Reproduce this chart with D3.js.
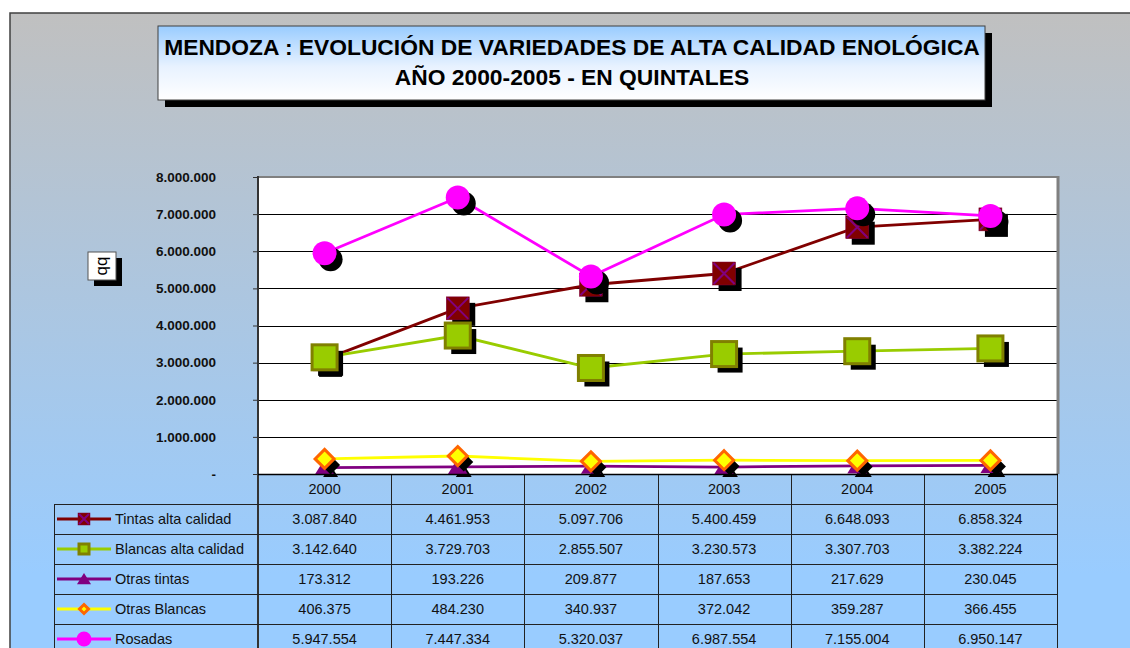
<!DOCTYPE html>
<html><head><meta charset="utf-8">
<script src="https://cdn.jsdelivr.net/npm/d3@7"></script>
<style>html,body{margin:0;padding:0;background:#fff;}svg{display:block;font-family:"Liberation Sans",Arial,sans-serif;}</style>
</head><body>
<script>
const years = ["2000","2001","2002","2003","2004","2005"];
const seriesNames = ["Tintas alta calidad","Blancas alta calidad","Otras tintas","Otras Blancas","Rosadas"];
const tintasAlta = [3087840,4461953,5097706,5400459,6648093,6858324];
const blancasAlta = [3142640,3729703,2855507,3230573,3307703,3382224];
const otrasTintas = [173312,193226,209877,187653,217629,230045];
const otrasBlancas = [406375,484230,340937,372042,359287,366455];
const rosadas = [5947554,7447334,5320037,6987554,7155004,6950147];
const yTicks = [0,1000000,2000000,3000000,4000000,5000000,6000000,7000000,8000000];
const titleLines = ["MENDOZA : EVOLUCIÓN DE VARIEDADES DE ALTA CALIDAD ENOLÓGICA","AÑO 2000-2005 - EN QUINTALES"];
const yTitle = "qq";

const W=1130,H=648;
const svg=d3.select("body").append("svg").attr("width",W).attr("height",H);
const defs=svg.append("defs");
const bg=defs.append("linearGradient").attr("id","bg").attr("x1",0).attr("y1",0).attr("x2",0).attr("y2",1);
bg.append("stop").attr("offset",0).attr("stop-color","#c0c0c0");
bg.append("stop").attr("offset",0.8).attr("stop-color","#99ccff");
bg.append("stop").attr("offset",1).attr("stop-color","#99ccff");
const tg=defs.append("linearGradient").attr("id","tg").attr("x1",0).attr("y1",0).attr("x2",0).attr("y2",1);
tg.append("stop").attr("offset",0).attr("stop-color","#99ccff");
tg.append("stop").attr("offset",0.55).attr("stop-color","#e8f2ff");
tg.append("stop").attr("offset",1).attr("stop-color","#ffffff");
defs.append("clipPath").attr("id","pc").append("rect").attr("x",250).attr("y",150).attr("width",820).attr("height",327);

// outer frame
svg.append("rect").attr("x",10).attr("y",13).attr("width",1200).attr("height",700)
  .attr("fill","url(#bg)").attr("stroke","#404040").attr("stroke-width",1.5);

// title
svg.append("rect").attr("x",165).attr("y",33).attr("width",827).attr("height",74).attr("fill","#000");
svg.append("rect").attr("x",158).attr("y",26).attr("width",827).attr("height",74).attr("fill","url(#tg)").attr("stroke","#404040").attr("stroke-width",1);
svg.append("g").selectAll("text").data(titleLines).join("text")
  .attr("x",572).attr("y",(d,i)=>55+i*30).attr("text-anchor","middle")
  .attr("font-weight","bold").attr("font-size",22.8).attr("fill","#000").text(d=>d);

// y title box
svg.append("rect").attr("x",94).attr("y",258).attr("width",28).attr("height",28).attr("fill","#000");
svg.append("rect").attr("x",88).attr("y",252).attr("width",28).attr("height",28).attr("fill","#fff").attr("stroke","#555").attr("stroke-width",1);
svg.append("text").attr("transform","translate(102,266) rotate(-90)").attr("text-anchor","middle").attr("dy","0.32em")
  .attr("font-size",17).attr("fill","#000").text(yTitle);

const px0=258,px1=1057,py0=177,py1=474;
const x=d3.scaleBand().domain(years).range([px0,px1]);
const y=d3.scaleLinear().domain([0,8000000]).range([py1,py0]);
const cx=d=>x(d)+x.bandwidth()/2;

// plot area
svg.append("rect").attr("x",px0).attr("y",py0).attr("width",px1-px0).attr("height",py1-py0).attr("fill","#fff");
svg.append("g").selectAll("line").data(yTicks.filter(t=>t>0)).join("line")
  .attr("x1",px0).attr("x2",px1).attr("y1",d=>Math.round(y(d))+0.5).attr("y2",d=>Math.round(y(d))+0.5)
  .attr("stroke","#000").attr("stroke-width",1);
svg.append("line").attr("x1",px0).attr("x2",px1+1).attr("y1",py0).attr("y2",py0).attr("stroke","#808080").attr("stroke-width",2);
svg.append("line").attr("x1",px1+1).attr("x2",px1+1).attr("y1",py0-1).attr("y2",py1).attr("stroke","#808080").attr("stroke-width",3);

// y axis
const fmt=v=>v===0?"-":d3.format(",")(v).replace(/,/g,".");
const yAxis=d3.axisLeft(y).tickValues(yTicks).tickFormat(fmt).tickSize(5).tickPadding(37);
const ga=svg.append("g").attr("transform",`translate(${px0},0)`).call(yAxis);
ga.select(".domain").remove();
ga.selectAll(".tick line").attr("stroke","#333");
ga.selectAll(".tick text").attr("font-family","\"Liberation Sans\",Arial,sans-serif").attr("font-size",13.5).attr("font-weight","bold").attr("fill","#111");
svg.append("line").attr("x1",px0).attr("x2",px0).attr("y1",py0-1).attr("y2",660).attr("stroke","#333").attr("stroke-width",2);

// table grid
const rowH=30, tTop=474;
const tg2=svg.append("g");
const colEdges=years.map(d=>x(d)).concat([px1]);
tg2.selectAll("line.v").data(colEdges.slice(1)).join("line").attr("class","v")
  .attr("x1",d=>Math.round(d)+0.5).attr("x2",d=>Math.round(d)+0.5).attr("y1",tTop).attr("y2",660)
  .attr("stroke","#222").attr("stroke-width",1);
tg2.append("line").attr("x1",54.5).attr("x2",54.5).attr("y1",tTop+rowH).attr("y2",660).attr("stroke","#222");
tg2.selectAll("line.h").data([0,1,2,3,4,5]).join("line").attr("class","h")
  .attr("x1",d=>d===0?px0:54).attr("x2",px1+1).attr("y1",d=>tTop+d*rowH+0.5).attr("y2",d=>tTop+d*rowH+0.5)
  .attr("stroke","#222").attr("stroke-width",1);
tg2.selectAll("text.yr").data(years).join("text").attr("class","yr")
  .attr("x",cx).attr("y",tTop+rowH/2).attr("dy","0.35em").attr("text-anchor","middle")
  .attr("font-size",14.5).attr("fill","#111").text(d=>d);

const series=[
  {name:seriesNames[0],vals:tintasAlta,line:"#800000",type:"sqx",fill:"#800000",stroke:"#800080",size:23,lsize:12},
  {name:seriesNames[1],vals:blancasAlta,line:"#99cc00",type:"sq",fill:"#99cc00",stroke:"#808000",size:28,lsize:13},
  {name:seriesNames[2],vals:otrasTintas,line:"#800080",type:"tri",fill:"#800080",stroke:"#800080",size:20,lsize:14},
  {name:seriesNames[3],vals:otrasBlancas,line:"#ffff00",type:"dia",fill:"#ffff00",stroke:"#ff6600",size:22,lsize:12},
  {name:seriesNames[4],vals:rosadas,line:"#ff00ff",type:"circ",fill:"#ff00ff",stroke:"#ff00ff",size:24,lsize:15}
];

function drawMarker(g,s,px,py,sz,shadow){
  const h=sz/2;
  const fill=shadow?"#000":s.fill, stroke=shadow?"#000":s.stroke;
  if(s.type==="sq"){
    g.append("rect").attr("x",px-h+1.5).attr("y",py-h+1.5).attr("width",sz-3).attr("height",sz-3).attr("fill",fill).attr("stroke",stroke).attr("stroke-width",shadow?0:3);
  } else if(s.type==="sqx"){
    g.append("rect").attr("x",px-h).attr("y",py-h).attr("width",sz).attr("height",sz).attr("fill",fill).attr("stroke",shadow?"none":"#800040").attr("stroke-width",0.5);
    if(!shadow){
      g.append("path").attr("d",`M${px-h+1},${py-h+1}L${px+h-1},${py+h-1}M${px+h-1},${py-h+1}L${px-h+1},${py+h-1}`).attr("stroke",stroke).attr("stroke-width",2);
    }
  } else if(s.type==="tri"){
    g.append("path").attr("d",`M${px},${py-h*0.85}L${px+h},${py+h*0.75}L${px-h},${py+h*0.75}Z`).attr("fill",fill);
  } else if(s.type==="dia"){
    const r=h-1.5;
    g.append("path").attr("d",`M${px},${py-r}L${px+r},${py}L${px},${py+r}L${px-r},${py}Z`).attr("fill",fill).attr("stroke",stroke).attr("stroke-width",shadow?0:3).attr("stroke-linejoin","miter");
  } else {
    g.append("circle").attr("cx",px).attr("cy",py).attr("r",h).attr("fill",fill);
  }
}

const line=d3.line().x((d,i)=>cx(years[i])).y(d=>y(d));
const plotG=svg.append("g").attr("clip-path","url(#pc)");
series.forEach(s=>{
  const g=plotG.append("g");
  g.append("path").attr("d",line(s.vals)).attr("fill","none").attr("stroke",s.line).attr("stroke-width",2.8);
  s.vals.forEach((v,i)=>drawMarker(g,s,cx(years[i])+6,y(v)+6,s.size,true));
  s.vals.forEach((v,i)=>drawMarker(g,s,cx(years[i]),y(v),s.size,false));
});
// axis line on top
svg.append("line").attr("x1",px0).attr("x2",px1+1).attr("y1",py1+0.5).attr("y2",py1+0.5).attr("stroke","#000").attr("stroke-width",1.5);

// table rows
series.forEach((s,r)=>{
  const rc=tTop+rowH*(r+1)+rowH/2;
  const g=svg.append("g");
  g.append("line").attr("x1",57).attr("x2",111).attr("y1",rc).attr("y2",rc).attr("stroke",s.line).attr("stroke-width",2.8);
  drawMarker(g,s,84,rc,s.lsize,false);
  g.append("text").attr("x",115).attr("y",rc).attr("dy","0.35em").attr("font-size",14.5).attr("fill","#111").text(s.name);
  g.selectAll("text.v").data(s.vals).join("text").attr("class","v")
    .attr("x",(d,i)=>cx(years[i])).attr("y",rc).attr("dy","0.35em").attr("text-anchor","middle")
    .attr("font-size",14.5).attr("fill","#111").text(d=>fmt(d));
});
</script>
</body></html>
